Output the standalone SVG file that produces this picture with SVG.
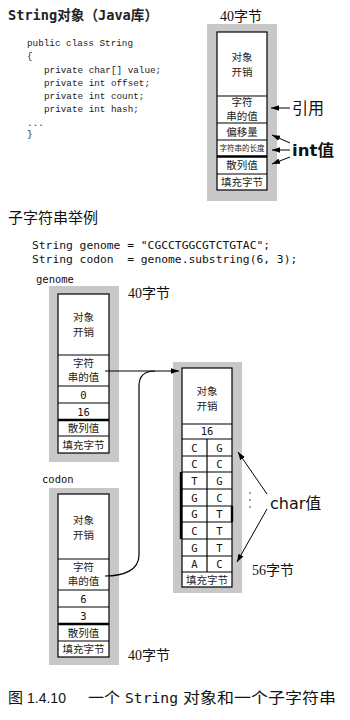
<svg xmlns="http://www.w3.org/2000/svg" width="350" height="720" viewBox="0 0 350 720">
<style>
.bg{fill:#fff}
.gray{fill:#c8c8c8}
.cell{fill:#fff;stroke:#000;stroke-width:1.2}
.ln{stroke:#000;stroke-width:1.2;fill:none}
.thick{stroke:#000;stroke-width:2.4;fill:none}
.cj{font-family:"Noto Sans CJK SC","Liberation Sans",sans-serif;font-size:10.5px;fill:#222;text-anchor:middle}
.sm{font-family:"Noto Sans CJK SC","Liberation Sans",sans-serif;font-size:7.5px;fill:#222;text-anchor:middle}
.num{font-family:"DejaVu Sans Mono","Noto Sans CJK SC",monospace;font-size:10.5px;fill:#111;text-anchor:middle}
.code1{font-family:"Liberation Mono","Noto Sans CJK SC",monospace;font-size:9.3px;fill:#222}
.code2{font-family:"DejaVu Sans Mono","Noto Sans CJK SC",monospace;font-size:11.3px;fill:#111}
.bytes{font-family:"Liberation Serif","Noto Sans CJK SC",serif;font-size:14px;fill:#111}
.big{font-family:"DejaVu Sans","Noto Sans CJK SC",sans-serif;font-size:16px;fill:#111}
.var{font-family:"DejaVu Sans Mono",monospace;font-size:10.5px;fill:#111}
.arr{stroke:#000;stroke-width:1;fill:none;marker-end:url(#ah)}
</style>
<defs>
<marker id="ah" viewBox="0 0 10 10" refX="10" refY="5" markerWidth="8" markerHeight="8" markerUnits="userSpaceOnUse" orient="auto">
<path d="M0,1.5 L10,5 L0,8.5 z" fill="#000"/>
</marker>
</defs>
<rect class="bg" x="0" y="0" width="350" height="720"/>

<text x="8" y="20" font-family="DejaVu Sans Mono,Noto Sans CJK SC,monospace" font-size="14" font-weight="bold" fill="#222" textLength="150" lengthAdjust="spacingAndGlyphs">String对象（Java库）</text>

<g id="code-string" class="code1">
<text x="27" y="46">public class String</text>
<text x="27" y="59">{</text>
<text x="44" y="73">private char[] value;</text>
<text x="44" y="86">private int offset;</text>
<text x="44" y="99">private int count;</text>
<text x="44" y="112">private int hash;</text>
<text x="27" y="126">...</text>
<text x="27" y="137">}</text>
</g>

<g id="string-object">
<text class="bytes" x="220" y="21">40字节</text>
<rect class="gray" x="207" y="24" width="70" height="177"/>
<rect class="cell" x="217" y="32" width="50" height="158"/>
<line class="ln" x1="217" y1="96" x2="267" y2="96"/>
<line class="ln" x1="217" y1="123" x2="267" y2="123"/>
<line class="ln" x1="217" y1="140" x2="267" y2="140"/>
<line class="thick" x1="217" y1="156.5" x2="267" y2="156.5"/>
<line class="ln" x1="217" y1="174" x2="267" y2="174"/>
<text class="cj" x="242" y="61">对象</text>
<text class="cj" x="242" y="76">开销</text>
<text class="cj" x="242" y="106">字符</text>
<text class="cj" x="242" y="120">串的值</text>
<text class="cj" x="242" y="136">偏移量</text>
<text class="sm" x="242" y="151">字符串的长度</text>
<text class="cj" x="242" y="169">散列值</text>
<text class="cj" x="242" y="186">填充字节</text>
</g>

<g id="labels-top">
<text class="big" x="292" y="114">引用</text>
<text class="big" x="292" y="156" font-weight="bold" textLength="42" lengthAdjust="spacingAndGlyphs">int值</text>
</g>

<text x="8" y="223" font-family="Noto Sans CJK SC,sans-serif" font-size="15" fill="#111">子字符串举例</text>

<g id="code-substring" class="code2">
<text x="32" y="249" xml:space="preserve">String genome = "CGCCTGGCGTCTGTAC";</text>
<text x="32" y="263" xml:space="preserve">String codon  = genome.substring(6, 3);</text>
</g>

<g id="genome">
<text class="var" x="36" y="283">genome</text>
<rect class="gray" x="49" y="286" width="70" height="176"/>
<rect class="cell" x="58" y="294" width="51" height="159"/>
<line class="ln" x1="58" y1="355" x2="109" y2="355"/>
<line class="ln" x1="58" y1="386" x2="109" y2="386"/>
<line class="ln" x1="58" y1="403" x2="109" y2="403"/>
<line class="thick" x1="58" y1="420" x2="109" y2="420"/>
<line class="ln" x1="58" y1="436" x2="109" y2="436"/>
<text class="cj" x="83.5" y="321">对象</text>
<text class="cj" x="83.5" y="336">开销</text>
<text class="cj" x="83.5" y="367">字符</text>
<text class="cj" x="83.5" y="381">串的值</text>
<text class="num" x="83.5" y="399">0</text>
<text class="num" x="83.5" y="416">16</text>
<text class="cj" x="83.5" y="432">散列值</text>
<text class="cj" x="83.5" y="449">填充字节</text>
<text class="bytes" x="128" y="298">40字节</text>
</g>

<g id="codon">
<text class="var" x="42" y="483">codon</text>
<rect class="gray" x="49" y="488" width="70" height="177"/>
<rect class="cell" x="58" y="494" width="51" height="163"/>
<line class="ln" x1="58" y1="559" x2="109" y2="559"/>
<line class="ln" x1="58" y1="590" x2="109" y2="590"/>
<line class="ln" x1="58" y1="607" x2="109" y2="607"/>
<line class="thick" x1="58" y1="624" x2="109" y2="624"/>
<line class="ln" x1="58" y1="641" x2="109" y2="641"/>
<text class="cj" x="83.5" y="524">对象</text>
<text class="cj" x="83.5" y="539">开销</text>
<text class="cj" x="83.5" y="571">字符</text>
<text class="cj" x="83.5" y="585">串的值</text>
<text class="num" x="83.5" y="603">6</text>
<text class="num" x="83.5" y="620">3</text>
<text class="cj" x="83.5" y="637">散列值</text>
<text class="cj" x="83.5" y="653">填充字节</text>
<text class="bytes" x="128" y="660">40字节</text>
</g>

<g id="char-array">
<rect class="gray" x="173" y="362" width="69" height="231"/>
<rect class="cell" x="182" y="368" width="50" height="219"/>
<line class="ln" x1="182" y1="424" x2="232" y2="424"/>
<line class="ln" x1="182" y1="439" x2="232" y2="439"/>
<line class="ln" x1="182" y1="456" x2="232" y2="456"/>
<line class="ln" x1="182" y1="472" x2="232" y2="472"/>
<line class="ln" x1="182" y1="489" x2="232" y2="489"/>
<line class="ln" x1="182" y1="506" x2="232" y2="506"/>
<line class="ln" x1="182" y1="522" x2="232" y2="522"/>
<line class="ln" x1="182" y1="539" x2="232" y2="539"/>
<line class="ln" x1="182" y1="556" x2="232" y2="556"/>
<line class="ln" x1="182" y1="572" x2="232" y2="572"/>
<line class="ln" x1="207" y1="439" x2="207" y2="572"/>
<line class="thick" x1="181" y1="472" x2="181" y2="539"/>
<line class="thick" x1="232" y1="506" x2="232" y2="522"/>
<text class="cj" x="207" y="395">对象</text>
<text class="cj" x="207" y="410">开销</text>
<text class="num" x="207" y="435">16</text>
<g class="num">
<text x="194.5" y="452">C</text><text x="219.5" y="452">G</text>
<text x="194.5" y="468">C</text><text x="219.5" y="468">C</text>
<text x="194.5" y="485">T</text><text x="219.5" y="485">G</text>
<text x="194.5" y="502">G</text><text x="219.5" y="502">C</text>
<text x="194.5" y="518">G</text><text x="219.5" y="518">T</text>
<text x="194.5" y="535">C</text><text x="219.5" y="535">T</text>
<text x="194.5" y="552">G</text><text x="219.5" y="552">T</text>
<text x="194.5" y="568">A</text><text x="219.5" y="568">C</text>
</g>
<text class="cj" x="207" y="584">填充字节</text>
<text class="bytes" x="252" y="575">56字节</text>
<text class="big" x="270" y="509">char值</text>
<g fill="#333">
<circle cx="250" cy="493" r="0.8"/>
<circle cx="250" cy="500" r="0.8"/>
<circle cx="250" cy="507" r="0.8"/>
</g>
</g>

<g id="connectors">
<line class="arr" x1="290" y1="108" x2="271" y2="108"/>
<line class="arr" x1="290" y1="143" x2="272" y2="135"/>
<line class="arr" x1="290" y1="150" x2="272" y2="150"/>
<line class="arr" x1="290" y1="157" x2="272" y2="164"/>
<line class="arr" x1="105" y1="371" x2="179" y2="371"/>
<path class="ln" d="M105,576 C124,576 139,570 139,555 L139,386 Q139,371 155,371"/>
<line class="arr" x1="267" y1="494" x2="238" y2="452"/>
<line class="arr" x1="267" y1="509" x2="237" y2="562"/>
</g>

<g id="caption" fill="#111">
<text x="8" y="703" font-family="Noto Sans CJK SC,sans-serif" font-size="15">图</text>
<text x="27" y="703" font-family="Liberation Sans,sans-serif" font-size="14">1.4.10</text>
<text x="88" y="703" font-family="Noto Sans CJK SC,sans-serif" font-size="15" textLength="32" lengthAdjust="spacingAndGlyphs">一个</text>
<text x="125" y="703" font-family="DejaVu Sans Mono,monospace" font-size="13.5" textLength="53" lengthAdjust="spacingAndGlyphs">String</text>
<text x="183" y="703" font-family="Noto Sans CJK SC,sans-serif" font-size="15" textLength="153" lengthAdjust="spacingAndGlyphs">对象和一个子字符串</text>
</g>
</svg>
